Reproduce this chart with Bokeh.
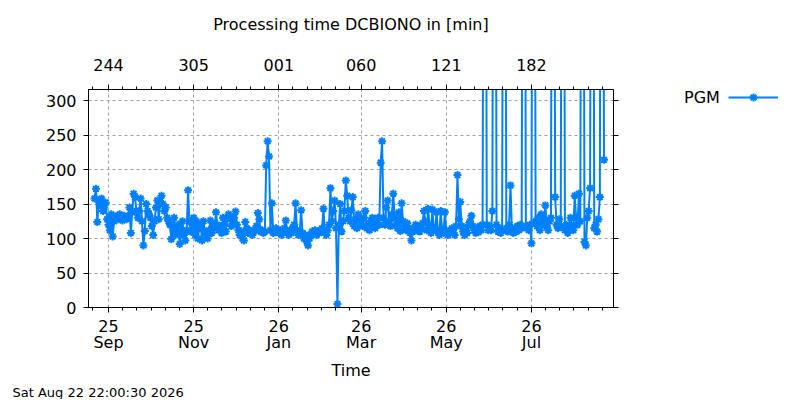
import pandas as pd
from bokeh.plotting import figure
from bokeh.layouts import row
from bokeh.models import (Range1d, FixedTicker, DatetimeTickFormatter, DatetimeAxis, LinearAxis,
                          Legend, LegendItem, ColumnDataSource, Title)
from bokeh.embed import file_html
from bokeh.resources import INLINE

# ---------------- data (daily values, minutes) ----------------
aug_2025 = [158, 172, 124, 155, 148, 158, 140, 145, 152, 128]
sep_2025 = [120, 112, 135, 103, 125, 132, 132, 128, 135, 130, 126, 133, 130, 128, 133,
            145, 108, 138, 165, 160, 140, 130, 140, 158, 125, 90, 111, 150, 140, 135]
oct_2025 = [130, 118, 105, 125, 145, 155, 128, 150, 162, 150, 140, 145, 130, 125, 120,
            99, 115, 130, 105, 110, 120, 92, 110, 125, 105, 97, 112, 170, 125, 110, 120]
nov_2025 = [130, 105, 125, 100, 115, 120, 97, 125, 110, 105, 100, 112, 126, 108, 120,
            115, 138, 120, 112, 118, 108, 130, 120, 110, 128, 135, 132, 118, 125, 130]
dec_2025 = [139, 120, 112, 105, 110, 100, 97, 124, 115, 108, 112, 110, 105, 110, 112,
            118, 137, 128, 110, 112, 108, 110, 206, 241, 219, 112, 151, 108, 112, 115, 110]
jan_2026 = [108, 112, 105, 110, 115, 126, 110, 105, 112, 108, 115, 120, 151, 112, 105,
            110, 141, 108, 100, 105, 95, 90, 100, 105, 110, 108, 112, 105, 110, 108, 112]
feb_2026 = [115, 143, 110, 105, 112, 120, 173, 125, 140, 155, 115, 5, 120, 150, 110,
            125, 140, 184, 162, 130, 125, 141, 160, 118, 128, 115, 135, 120]
mar_2026 = [125, 118, 130, 140, 115, 120, 112, 125, 130, 118, 115, 122, 130, 120, 210,
            241, 130, 120, 145, 155, 125, 118, 135, 165, 130, 120, 115, 138, 111, 151, 125]
apr_2026 = [118, 112, 122, 115, 108, 97, 110, 115, 120, 112, 118, 110, 115, 122, 140,
            125, 112, 143, 120, 108, 142, 115, 112, 138, 110, 105, 140, 112, 108, 138]
may_2026 = [112, 105, 110, 108, 115, 112, 105, 118, 192, 128, 153, 118, 110, 105, 112,
            108, 120, 125, 133, 118, 112, 108, 115, 109, 118, 112, 120, 960, 1020, 120, 112]
jun_2026 = [118, 112, 140, 980, 1010, 120, 110, 115, 108, 112, 970, 1030, 115, 110, 120,
            177, 112, 108, 115, 110, 118, 112, 120, 115, 990, 1000, 118, 115, 112, 120]
jul_2026 = [93, 950, 1040, 125, 118, 130, 112, 135, 120, 128, 148, 118, 112, 125, 130,
            1000, 960, 160, 120, 115, 128, 118, 1020, 980, 112, 120, 108, 115, 130, 118, 112]
aug_2026 = [162, 130, 120, 165, 125, 990, 1010, 95, 90, 130, 140, 173, 970, 1000, 115,
            120, 110, 128, 160, 1030, 960, 214]

month_starts = ["2025-08-22", "2025-09-01", "2025-10-01", "2025-11-01", "2025-12-01",
                "2026-01-01", "2026-02-01", "2026-03-01", "2026-04-01", "2026-05-01",
                "2026-06-01", "2026-07-01", "2026-08-01"]
month_values = [aug_2025, sep_2025, oct_2025, nov_2025, dec_2025, jan_2026, feb_2026,
                mar_2026, apr_2026, may_2026, jun_2026, jul_2026, aug_2026]

major_tick_dates = ["2025-09-01", "2025-11-01", "2026-01-01", "2026-03-01",
                    "2026-05-01", "2026-07-01"]
prev_major_date = "2025-07-01"
y_ticks = [0, 50, 100, 150, 200, 250, 300]

title_text = "Processing time DCBIONO in [min]"
series_name = "PGM"
x_label = "Time"
stamp_text = "Sat Aug 22 22:00:30 2026"

# ---------------- build ----------------
dates, vals = [], []
for start, mv in zip(month_starts, month_values):
    dates.extend(pd.date_range(start, periods=len(mv), freq="D"))
    vals.extend(mv)
src = ColumnDataSource(dict(t=dates, v=vals))

def ms(d):
    return pd.Timestamp(d).timestamp() * 1000.0

x_start = pd.Timestamp("2025-08-17 15:50")
x_end = pd.Timestamp("2026-08-28 19:00")

major_ms = [ms(d) for d in major_tick_dates]
step = (2 * 30.4375 * 86400 * 1000.0) / 6.0
minor_ms = []
for m in [ms(prev_major_date)] + major_ms:
    for k in range(1, 6):
        v = m + k * step
        if ms(x_start) <= v <= ms(x_end):
            minor_ms.append(v)

BLUE = "#0080ff"
FONT = "DejaVu Sans"

p = figure(frame_width=525, frame_height=218, x_axis_type="datetime",
           x_range=Range1d(x_start, x_end), y_range=Range1d(0, 316),
           output_backend="svg", toolbar_location=None,
           min_border_left=88, min_border_right=12, min_border_top=89, min_border_bottom=80)
p.outline_line_color = "black"
p.background_fill_color = "white"
p.border_fill_color = "white"
p.title.text = ""
p.title.visible = False

xt = FixedTicker(ticks=major_ms, minor_ticks=minor_ms)
yt = FixedTicker(ticks=y_ticks, minor_ticks=[])

fb = "%y\n%b"
fmt_bottom = DatetimeTickFormatter(
    microseconds=fb, milliseconds=fb, seconds=fb, minsec=fb, minutes=fb, hourmin=fb,
    hours=fb, days=fb, months=fb, years=fb, strip_leading_zeros=False)
ft = "%j"
fmt_top = DatetimeTickFormatter(
    microseconds=ft, milliseconds=ft, seconds=ft, minsec=ft, minutes=ft, hourmin=ft,
    hours=ft, days=ft, months=ft, years=ft, strip_leading_zeros=False)

def style(ax, minor=True):
    ax.axis_line_color = "black"
    ax.axis_line_width = 1
    ax.major_tick_line_color = "black"
    ax.major_tick_in = 0
    ax.major_tick_out = 5
    ax.minor_tick_in = 0
    ax.minor_tick_out = 3 if minor else 0
    ax.minor_tick_line_color = "black" if minor else None
    ax.major_label_text_font = FONT
    ax.major_label_text_font_size = "16px"
    ax.major_label_text_color = "black"
    ax.axis_label_text_font = FONT
    ax.axis_label_text_font_size = "16px"
    ax.axis_label_text_font_style = "normal"
    ax.axis_label_text_color = "black"

xb = p.xaxis[0]
xb.ticker = xt
xb.formatter = fmt_bottom
style(xb)
xb.major_label_standoff = 4
xb.major_label_text_line_height = 0.85
xb.axis_label = x_label
xb.axis_label_standoff = 6

# top axis: day-of-year labels, chart title placed as its label
xtop = DatetimeAxis(ticker=xt, formatter=fmt_top)
style(xtop)
xtop.major_label_standoff = 14
xtop.axis_label = title_text
xtop.axis_label_standoff = 22
p.add_layout(xtop, "above")

yl = p.yaxis[0]
yl.ticker = yt
style(yl, minor=False)
yl.major_label_standoff = 7

yr = LinearAxis(ticker=yt)
style(yr, minor=False)
yr.major_label_text_font_size = "1px"
yr.major_label_text_color = None
yr.major_label_standoff = 0
p.add_layout(yr, "right")

p.xgrid.ticker = xt
p.ygrid.ticker = yt
for g in (p.xgrid, p.ygrid):
    g.grid_line_color = "#a0a0a0"
    g.grid_line_dash = "3 3"
    g.grid_line_width = 1

p.line("t", "v", source=src, line_color=BLUE, line_width=2)
p.scatter("t", "v", source=src, marker="asterisk", size=8, line_color=BLUE, line_width=2)

stamp = Title(text=stamp_text, align="left", offset=-76, standoff=0,
              text_font=FONT, text_font_size="13px", text_font_style="normal",
              text_color="black", text_line_height=0.75)
p.add_layout(stamp, "below")

# ---------------- legend panel (right of the plot) ----------------
# shares the series source; its own (0..1) ranges keep the series itself out of view
pl = figure(frame_width=163, frame_height=218, x_range=Range1d(0, 1), y_range=Range1d(0, 1),
            output_backend="svg", toolbar_location=None,
            x_axis_location=None, y_axis_location=None,
            min_border_left=0, min_border_right=0, min_border_top=89, min_border_bottom=80)
pl.outline_line_color = None
pl.grid.visible = False
pl.title.visible = False
pl.background_fill_color = "white"
pl.border_fill_color = "white"

blank = pl.line("t", "v", source=src, line_alpha=0)
l_ln = pl.line("t", "v", source=src, line_color=BLUE, line_width=2)
l_sc = pl.scatter("t", "v", source=src, marker="asterisk", size=8,
                  line_color=BLUE, line_width=2)

legend = Legend(items=[LegendItem(label=series_name, renderers=[blank]),
                       LegendItem(label=" ", renderers=[l_ln, l_sc])],
                orientation="horizontal", location=(9, 200),
                glyph_width=50, glyph_height=20, padding=0, margin=0, spacing=8,
                label_standoff=0, label_width=0, label_height=20,
                label_text_font=FONT, label_text_font_size="16px", label_text_color="black",
                border_line_color=None, background_fill_alpha=0)
pl.add_layout(legend)

layout = row(p, pl)
open("out.html", "w").write(file_html(layout, INLINE))
